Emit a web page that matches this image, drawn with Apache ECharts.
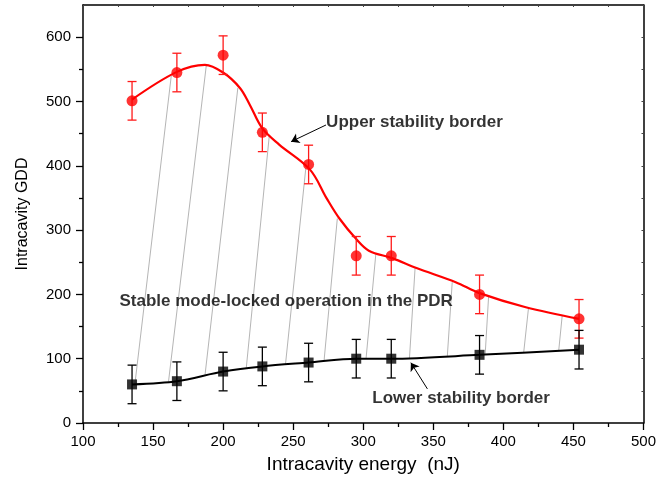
<!DOCTYPE html>
<html>
<head>
<meta charset="utf-8">
<script src="https://cdn.jsdelivr.net/npm/echarts@6/dist/echarts.min.js"></script>
<style>
html,body{margin:0;padding:0;background:#fff;}
#chart{width:659px;height:484px;}
</style>
</head>
<body>
<div id="chart"></div>
<script>
// ---- data ----
const energy = [135, 167, 200, 228, 261, 295, 320, 383, 454];
const upperGDD = [501, 545, 572, 452, 402, 260, 260, 200, 162];
const lowerGDD = [60, 65, 80, 88, 94, 100, 100, 106, 114];
const upperErr = [30, 30, 30, 30, 30, 30, 30, 30, 30];
const lowerErr = [30, 30, 30, 30, 30, 30, 30, 30, 30];
// fitted (spline) curve through the upper border
const upperCurveX = [135, 167, 187, 200, 212, 219, 228, 240, 262, 274, 283, 295, 304, 321, 338, 366, 383, 416, 454];
const upperCurveY = [503, 546, 557, 545, 521, 495, 458, 433, 394, 349, 318, 286, 268, 256, 241, 219, 202, 180, 162];
// hatch lines: lower end (on lower border) and upper end (on upper border)
const hatchLowX = [137, 161, 187, 216.5, 244.5, 272, 302, 333, 360, 387, 414.5, 439.5];
const hatchLowY = [60, 64, 73, 85, 91, 96, 100, 101, 104, 106, 109.5, 112.5];
const hatchHighX = [163, 188, 210.5, 233, 259, 281.5, 309, 337, 363.5, 389.5, 418, 442];
const hatchHighY = [540, 556, 521, 448, 396, 318, 263, 241, 219, 198, 180, 167];
// annotations
const annotationTexts = ['Upper stability border', 'Stable mode-locked operation in the PDR', 'Lower stability border'];
const annotationX = [273.5, 126, 306.5];
const annotationY = [467, 190, 38];
const arrowTailX = [273.4, 345.8];
const arrowTailY = [463.4, 53];
const arrowHeadX = [248.5, 334];
const arrowHeadY = [437.5, 93.8];
const xTicks = [100, 150, 200, 250, 300, 350, 400, 450, 500];
const yTicks = [0, 100, 200, 300, 400, 500, 600];
const yMinorTicks = [50, 150, 250, 350, 450, 550];

const chart = echarts.init(document.getElementById('chart'), null, {renderer: 'canvas'});
const FONT = '"Liberation Sans", Arial, sans-serif';

function errRender(color) {
  return function (params, api) {
    const x = api.value(0), y = api.value(1), e = api.value(2);
    const top = api.coord([x, y + e]);
    const bot = api.coord([x, y - e]);
    const hw = 4.5;
    const style = {stroke: color, lineWidth: 1.3};
    return {
      type: 'group',
      children: [
        {type: 'line', shape: {x1: top[0], y1: top[1], x2: bot[0], y2: bot[1]}, style: style},
        {type: 'line', shape: {x1: top[0] - hw, y1: top[1], x2: top[0] + hw, y2: top[1]}, style: style},
        {type: 'line', shape: {x1: bot[0] - hw, y1: bot[1], x2: bot[0] + hw, y2: bot[1]}, style: style}
      ]
    };
  };
}

const axisColor = '#000';
const option = {
  animation: false,
  backgroundColor: '#fff',
  grid: {left: 83, right: 14, top: 5, bottom: 61, containLabel: false},
  xAxis: [
    {
      type: 'value', min: 100, max: 500, interval: 50, position: 'bottom',
      name: 'Intracavity energy  (nJ)', nameLocation: 'middle', nameGap: 32,
      nameTextStyle: {fontFamily: FONT, fontSize: 19, color: '#000'},
      axisLine: {onZero: false, lineStyle: {color: axisColor, width: 1.5}},
      axisTick: {show: true, inside: false, length: 7, lineStyle: {color: axisColor, width: 1.3}},
      minorTick: {show: true, splitNumber: 2, length: 4, lineStyle: {color: axisColor, width: 1.3}},
      axisLabel: {fontFamily: FONT, fontSize: 15, color: '#000', margin: 11,
        customValues: xTicks},
      splitLine: {show: false}, minorSplitLine: {show: false}
    },
    {
      type: 'value', min: 100, max: 500, interval: 25, position: 'top',
      axisLine: {onZero: false, lineStyle: {color: axisColor, width: 1.5}},
      axisTick: {show: true, inside: true, length: 2, lineStyle: {color: '#444', width: 1}},
      axisLabel: {show: false}, splitLine: {show: false}
    }
  ],
  yAxis: [
    {
      type: 'value', min: 0, max: 650, interval: 50, position: 'left',
      name: 'Intracavity GDD', nameLocation: 'middle', nameGap: 52,
      nameTextStyle: {fontFamily: FONT, fontSize: 16, color: '#000'},
      axisLine: {onZero: false, lineStyle: {color: axisColor, width: 1.5}},
      axisTick: {show: true, inside: false, length: 7, customValues: yTicks, lineStyle: {color: axisColor, width: 1.3}},
      axisLabel: {fontFamily: FONT, fontSize: 15, color: '#000', margin: 12, customValues: yTicks},
      splitLine: {show: false}
    },
    {
      type: 'value', min: 0, max: 650, interval: 50, position: 'left',
      axisLine: {show: false},
      axisTick: {show: true, inside: false, length: 4, customValues: yMinorTicks, lineStyle: {color: axisColor, width: 1.3}},
      axisLabel: {show: false}, splitLine: {show: false}
    },
    {
      type: 'value', min: 0, max: 650, interval: 50, position: 'right',
      axisLine: {onZero: false, lineStyle: {color: axisColor, width: 1.5}},
      axisTick: {show: true, inside: true, length: 2, lineStyle: {color: '#444', width: 1}},
      axisLabel: {show: false}, splitLine: {show: false}
    }
  ],
  series: [
    {
      type: 'lines', coordinateSystem: 'cartesian2d', xAxisIndex: 0, yAxisIndex: 0, silent: true, z: 1,
      lineStyle: {color: '#b5b5b5', width: 1, opacity: 1},
      data: hatchLowX.map((x, i) => ({coords: [[x, hatchLowY[i]], [hatchHighX[i], hatchHighY[i]]]}))
    },
    {
      type: 'line', xAxisIndex: 0, yAxisIndex: 0, smooth: 0.3, showSymbol: false, z: 3,
      lineStyle: {color: '#000', width: 2},
      data: energy.map((x, i) => [x, lowerGDD[i]])
    },
    {
      type: 'line', xAxisIndex: 0, yAxisIndex: 0, smooth: 0.35, showSymbol: false, z: 3,
      lineStyle: {color: '#ff0000', width: 2.2},
      data: upperCurveX.map((x, i) => [x, upperCurveY[i]])
    },
    {
      type: 'custom', xAxisIndex: 0, yAxisIndex: 0, z: 4, renderItem: errRender('#ff1a1a'),
      data: energy.map((x, i) => [x, upperGDD[i], upperErr[i]])
    },
    {
      type: 'custom', xAxisIndex: 0, yAxisIndex: 0, z: 4, renderItem: errRender('#000'),
      data: energy.map((x, i) => [x, lowerGDD[i], lowerErr[i]])
    },
    {
      type: 'scatter', xAxisIndex: 0, yAxisIndex: 0, symbol: 'circle', symbolSize: 11, z: 5,
      itemStyle: {color: '#ff0000'},
      data: energy.map((x, i) => [x, upperGDD[i]])
    },
    {
      type: 'scatter', xAxisIndex: 0, yAxisIndex: 0, symbol: 'rect', symbolSize: 10, z: 5,
      itemStyle: {color: '#000'},
      data: energy.map((x, i) => [x, lowerGDD[i]])
    },
    {
      type: 'lines', coordinateSystem: 'cartesian2d', xAxisIndex: 0, yAxisIndex: 0, silent: true, z: 6,
      symbol: ['none', 'arrow'], symbolSize: 8,
      lineStyle: {color: '#000', width: 1, opacity: 1},
      data: arrowTailX.map((x, i) => ({coords: [[x, arrowTailY[i]], [arrowHeadX[i], arrowHeadY[i]]]}))
    },
    {
      type: 'scatter', xAxisIndex: 0, yAxisIndex: 0, symbolSize: 0, silent: true, z: 7,
      data: annotationX.map((x, i) => ({value: [x, annotationY[i]], name: annotationTexts[i]})),
      label: {show: true, position: [0, 0], align: 'left', verticalAlign: 'middle',
        formatter: p => p.name, fontFamily: FONT, fontWeight: 'bold', fontSize: 17, color: '#000'}
    }
  ]
};
chart.setOption(option);
</script>
</body>
</html>
